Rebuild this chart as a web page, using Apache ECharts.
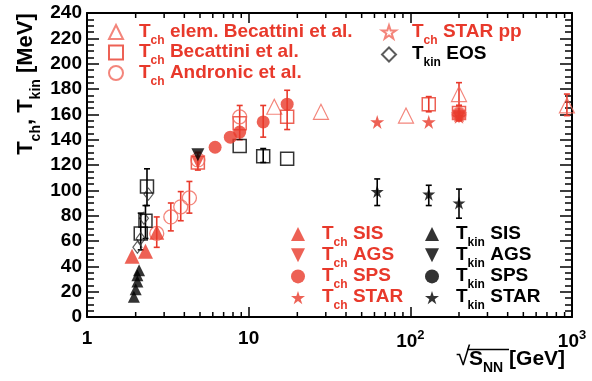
<!DOCTYPE html>
<html><head><meta charset="utf-8">
<script src="https://cdn.jsdelivr.net/npm/echarts@6/dist/echarts.min.js"></script>
<style>html,body{margin:0;padding:0;background:#fff}#c{width:592px;height:381px}</style>
</head><body><div id="c"></div>
<script>
// ---------------- data ----------------
const tchSIS = [[1.9,48],[2.3,52],[2.7,67]];
const tchAGS = [[4.85,122],[200,158]];
const tchSPS = [[6.2,134],[7.7,142],[8.8,146],[12.3,154],[17.3,168],[200,160]];
const tchSTAR = [[62.4,154],[130,154],[200,158]];
const tchElem = [[14.4,166],[28,162],[94,159],[200,176],[930,167]];
const tchBecattini = [[4.85,122],[8.8,153],[17.3,158],[130,168],[200,161]];
const tchAndronic = [[2.7,66],[3.3,79],[3.8,87],[4.3,94],[4.85,124],[8.8,158],[200,160]];
const tchSTARpp = [[200,160]];
const tkinEOS = [[2.05,55],[2.15,62],[2.25,78],[2.4,97]];
const tkinSIS = [[1.95,16],[2.0,22],[2.05,28],[2.05,33],[2.1,37]];
const tkinAGS = [[4.85,128]];
const tkinSPS = [];
const tkinSTAR = [[62.4,99],[130,97],[200,90]];
const tkinFit = [[2.15,66],[2.3,76],[2.35,103],[8.8,135],[12.3,127],[17.3,125]];
const redErr = [[2.7,55,79],[3.3,68,90],[3.8,76,99],[4.3,82,107],[4.85,116,130],[8.8,140,167],[12.3,142,167],[17.3,148,179],[130,162,174],[200,167,185],[200,155,167],[930,159,176]];
const blackErr = [[2.15,53,82],[2.3,62,88],[2.35,88,117],[12.3,122,133],[62.4,88,109],[130,88,104],[200,78,101]];
const xMinorTicks = [2,3,4,5,6,7,8,9,20,30,40,50,60,70,80,90,200,300,400,500,600,700,800,900];
const xTickLabels = ['1','10','{n|10}{sup|2}','{n|10}{sup|3}'];
const yMin = 0, yMax = 240, yStep = 20;
const xMin = 1, xMax = 1000;

// ---------------- style ----------------
const RED='#e8392b', LRED='#f0665a', BLK='#000000';
const F="'Liberation Sans', Arial, Helvetica, sans-serif";
const STAR='path://M50,0 L61.2,34.5 L97.6,34.5 L68.2,55.9 L79.4,90.5 L50,69.1 L20.6,90.5 L31.8,55.9 L2.4,34.5 L38.8,34.5 Z';
const DOWN='path://M0,0 L100,0 L50,100 Z';

function sc(name, data, symbol, size, color, open, extra){
  return Object.assign({
    type:'scatter', name, data, symbol, symbolSize:size, z:5,
    itemStyle: open ? {color:'rgba(255,255,255,0)', borderColor:color, borderWidth:1.5}
                    : {color:color, borderWidth:0},
    emphasis:{disabled:true}
  }, extra||{});
}
function errSeries(data, color){
  return {
    type:'custom', data, z:3, silent:true,
    encode:{x:0, y:[1,2]},
    renderItem:(p, api)=>{
      const x=api.value(0);
      const lo=api.coord([x, api.value(1)]), hi=api.coord([x, api.value(2)]);
      const st={stroke:color, lineWidth:1.6};
      return {type:'group', children:[
        {type:'line', shape:{x1:lo[0],y1:lo[1],x2:hi[0],y2:hi[1]}, style:st},
        {type:'line', shape:{x1:lo[0]-3,y1:lo[1],x2:lo[0]+3,y2:lo[1]}, style:st},
        {type:'line', shape:{x1:hi[0]-3,y1:hi[1],x2:hi[0]+3,y2:hi[1]}, style:st}
      ]};
    }
  };
}
const minorTickSeries = {
  type:'custom', data: xMinorTicks.map(v=>[v, yMin]), z:10, silent:true, clip:false,
  encode:{x:0, y:1},
  renderItem:(p, api)=>{
    const v=api.value(0);
    const b=api.coord([v,yMin]), t=api.coord([v,yMax]);
    const st={stroke:'#000', lineWidth:1.5};
    return {type:'group', children:[
      {type:'line', shape:{x1:b[0],y1:b[1],x2:b[0],y2:b[1]-5}, style:st},
      {type:'line', shape:{x1:t[0],y1:t[1],x2:t[0],y2:t[1]+5}, style:st}
    ]};
  }
};

const legendText = {
  'elem':['ch',' elem. Becattini et al.','r'],
  'bec':['ch',' Becattini et al.','r'],
  'and':['ch',' Andronic et al.','r'],
  'pp':['ch',' STAR pp','r'],
  'eos':['kin',' EOS','k'],
  'chSIS':['ch',' SIS','r'], 'chAGS':['ch',' AGS','r'], 'chSPS':['ch',' SPS','r'], 'chSTAR':['ch',' STAR','r'],
  'kSIS':['kin',' SIS','k'], 'kAGS':['kin',' AGS','k'], 'kSPS':['kin',' SPS','k'], 'kSTAR':['kin',' STAR','k']
};
function richFor(color, pad){
  const m={color, fontFamily:F, fontSize:19, fontWeight:'bold', lineHeight:20, verticalAlign:'top'};
  return {
    p: Object.assign({}, m, {padding:[0,0,0,pad]}),
    m: m,
    s: {color, fontFamily:F, fontSize:12, fontWeight:'bold', lineHeight:12, verticalAlign:'top', padding:[12.5,0,0,0]}
  };
}
function legendFmt(name){
  const d=legendText[name];
  return '{'+d[2]+'p|T}{'+d[2]+'s|'+d[0]+'}{'+d[2]+'m|'+d[1]+'}';
}
function mkRich(pad){
  const r=richFor(RED,pad), k=richFor(BLK,pad);
  return {rp:r.p, rm:r.m, rs:r.s, kp:k.p, km:k.m, ks:k.s};
}
function legend(names, left, top, gap, pad){
  return {data:names, left, top, orient:'vertical', itemWidth:14, itemHeight:14, itemGap:gap,
    padding:0, selectedMode:false, formatter:legendFmt,
    textStyle:{rich:mkRich(pad)}};
}

const chart = echarts.init(document.getElementById('c'), null, {renderer:'canvas'});
chart.setOption({
  animation:false,
  backgroundColor:'#fff',
  grid:{left:87, right:20, top:13, bottom:64, containLabel:false, outerBoundsMode:'none'},
  xAxis:[{
    type:'log', logBase:10, min:xMin, max:xMax,
    axisLine:{show:true, onZero:false, lineStyle:{color:'#000', width:2}},
    axisTick:{show:true, inside:true, length:10, lineStyle:{color:'#000', width:1.5}},
    splitLine:{show:false},
    axisLabel:{margin:12, color:'#000', fontFamily:F, fontSize:19, fontWeight:'bold',
      formatter:(v)=>xTickLabels[Math.round(Math.log10(v))],
      rich:{n:{fontFamily:F, fontSize:19, fontWeight:'bold', color:'#000', verticalAlign:'bottom', lineHeight:22},
            sup:{fontFamily:F, fontSize:13, fontWeight:'bold', color:'#000', verticalAlign:'top', lineHeight:22, padding:[0,0,8,0]}}}
  },{
    type:'log', logBase:10, min:xMin, max:xMax, position:'top',
    axisLine:{show:true, onZero:false, lineStyle:{color:'#000', width:2}},
    axisTick:{show:true, inside:true, length:10, lineStyle:{color:'#000', width:1.5}},
    axisLabel:{show:false}, splitLine:{show:false}
  }],
  yAxis:[{
    type:'value', min:yMin, max:yMax, interval:yStep,
    axisLine:{show:true, onZero:false, lineStyle:{color:'#000', width:2}},
    axisTick:{show:true, inside:true, length:12, lineStyle:{color:'#000', width:1.5}},
    minorTick:{show:true, splitNumber:4, length:7, lineStyle:{color:'#000', width:1.5}},
    splitLine:{show:false}, minorSplitLine:{show:false},
    axisLabel:{margin:5, color:'#000', fontFamily:F, fontSize:19, fontWeight:'bold'}
  },{
    type:'value', min:yMin, max:yMax, interval:yStep, position:'right',
    axisLine:{show:true, onZero:false, lineStyle:{color:'#000', width:2}},
    axisTick:{show:true, inside:true, length:12, lineStyle:{color:'#000', width:1.5}},
    minorTick:{show:true, splitNumber:4, length:7, lineStyle:{color:'#000', width:1.5}},
    splitLine:{show:false}, axisLabel:{show:false}
  }],
  legend:[
    legend(['elem','bec','and'], 108, 22, -4, 11),
    legend(['pp','eos'], 381, 22, -2, 11),
    legend(['chSIS','chAGS','chSPS','chSTAR'], 291, 224, -3.3, 12),
    legend(['kSIS','kAGS','kSPS','kSTAR'], 425, 224, -3.3, 12)
  ],
  graphic:[
    {type:'text', x:27, y:84, rotation:Math.PI/2, style:{
      text:'{m|T}{s|ch}{m|, T}{s|kin}{m| [MeV]}', align:'center', verticalAlign:'middle',
      rich:{m:{fontFamily:F, fontSize:22, fontWeight:'bold', color:'#000', lineHeight:24, verticalAlign:'top'},
            s:{fontFamily:F, fontSize:14, fontWeight:'bold', color:'#000', lineHeight:14, verticalAlign:'top', padding:[14,0,0,0]}}}},
    {type:'text', x:456, y:345, style:{text:'\u221A', fontFamily:F, fontSize:26, fill:'#000', align:'left', verticalAlign:'top'}},
    {type:'line', shape:{x1:467, y1:349.5, x2:509, y2:349.5}, style:{stroke:'#000', lineWidth:1.5}},
    {type:'text', x:469, y:349, style:{
      text:'{m|S}{s|NN}{m| [GeV]}', align:'left', verticalAlign:'top',
      rich:{m:{fontFamily:F, fontSize:21, fontWeight:'bold', color:'#000', lineHeight:24, verticalAlign:'top'},
            s:{fontFamily:F, fontSize:14, fontWeight:'bold', color:'#000', lineHeight:14, verticalAlign:'top', padding:[12.5,0,0,0]}}}}
  ],
  series:[
    minorTickSeries,
    errSeries(redErr, RED),
    errSeries(blackErr, BLK),
    sc('elem', tchElem, 'triangle', 15, LRED, true, {itemStyle:{color:'rgba(255,255,255,0)', borderColor:LRED, borderWidth:1.2}}),
    sc('bec', tchBecattini, 'rect', 13, RED, true),
    sc('and', tchAndronic, 'circle', 14, LRED, true, {itemStyle:{color:'rgba(255,255,255,0)', borderColor:LRED, borderWidth:1.3}}),
    sc('pp', tchSTARpp, STAR, 13, LRED, true, {itemStyle:{color:'rgba(255,255,255,0)', borderColor:LRED, borderWidth:1.2}}),
    sc('eos', tkinEOS, 'diamond', [9,12], '#333', true, {itemStyle:{color:'rgba(255,255,255,0)', borderColor:'#333', borderWidth:1.2}}),
    sc('kFit', tkinFit, 'rect', 13, BLK, true),
    sc('chSIS', tchSIS, 'triangle', 15, RED, false),
    sc('chAGS', tchAGS, DOWN, 13, RED, false),
    sc('chSPS', tchSPS, 'circle', 13, RED, false),
    sc('chSTAR', tchSTAR, STAR, 14, RED, false),
    sc('kSIS', tkinSIS, 'triangle', 12, BLK, false),
    sc('kAGS', tkinAGS, DOWN, 13, BLK, false),
    sc('kSPS', tkinSPS, 'circle', 13, BLK, false),
    sc('kSTAR', tkinSTAR, STAR, 13, BLK, false)
  ]
});
</script></body></html>
